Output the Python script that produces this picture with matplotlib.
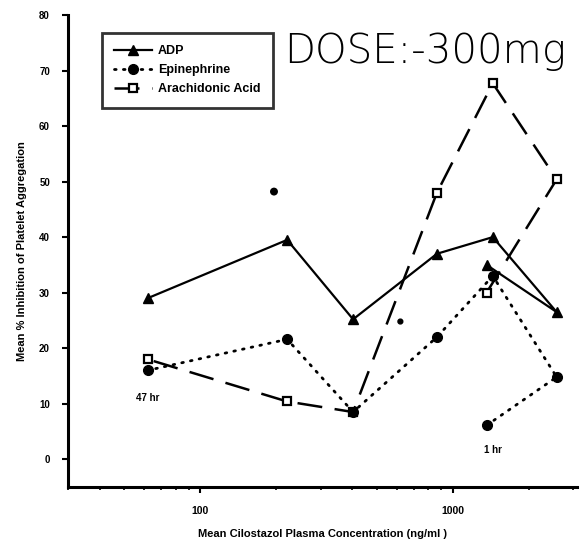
import matplotlib
matplotlib.use("Agg")
import matplotlib.pyplot as plt
from matplotlib.ticker import LogLocator, NullFormatter, FixedLocator, FixedFormatter

plt.rcParams["font.family"] = ["Liberation Sans", "DejaVu Sans"]
plt.rcParams["font.weight"] = "bold"

# time order: 1 hr ... 47 hr
conc = [1360, 2576, 1439, 865, 403, 221, 62]
adp = [35, 26.5, 40, 37, 25.2, 39.5, 29]
epinephrine = [6.1, 14.8, 33, 22, 8.5, 21.6, 16]
arachidonic = [30, 50.4, 67.7, 48, 8.5, 10.4, 18]

# stray scan marks
stray_x = [196, 620]
stray_y = [48.2, 24.8]

yticks = [0, 10, 20, 30, 40, 50, 60, 70, 80]
xticks = [100, 1000]
xticklabels = ["100", "1000"]

fig = plt.figure(figsize=(5.82, 5.5), dpi=100)
ax = fig.add_axes([68 / 582, 1 - 487 / 550, 509 / 582, 472 / 550])

ax.plot(conc, adp, color="black", lw=1.6, marker="^", ms=6.5,
        mfc="black", label="ADP", zorder=3)
ax.plot(conc, arachidonic, color="black", lw=1.8, ls=(0, (10, 5)),
        marker="s", ms=5.5, mfc="white", mew=1.6, label="Arachidonic Acid",
        zorder=3)
ax.plot(conc, epinephrine, color="black", lw=2.0, ls=(0, (0.6, 2.6)),
        dash_capstyle="round", marker="o", ms=7, mfc="black",
        label="Epinephrine", zorder=4)
ax.scatter(stray_x, stray_y, s=[22, 12], color="black", zorder=3)

ax.set_xscale("log")
ax.set_xlim(30, 3100)
ax.set_ylim(-5, 80)

ax.xaxis.set_major_locator(FixedLocator(xticks))
ax.xaxis.set_major_formatter(FixedFormatter(xticklabels))
ax.xaxis.set_minor_locator(LogLocator(base=10, subs=range(2, 10)))
ax.xaxis.set_minor_formatter(NullFormatter())
ax.set_yticks(yticks)

for side in ["top", "right"]:
    ax.spines[side].set_visible(False)
for side in ["left", "bottom"]:
    ax.spines[side].set_linewidth(2.2)

ax.tick_params(axis="y", direction="out", length=4, width=1.5,
               labelsize=7, pad=9)
ax.tick_params(axis="x", which="major", direction="out", length=4,
               width=1.5, labelsize=7.5, pad=10)
ax.tick_params(axis="x", which="minor", direction="out", length=2.5,
               width=1.2)

ax.set_xlabel("Mean Cilostazol Plasma Concentration (ng/ml )",
              fontsize=8, fontweight="bold", labelpad=9)
ax.set_ylabel("Mean % Inhibition of Platelet Aggregation",
              fontsize=8, fontweight="bold", labelpad=9)

ax.text(56, 11, "47 hr", fontsize=7, fontweight="bold", va="center")
ax.text(1330, 1.6, "1 hr", fontsize=7, fontweight="bold", va="center")

# legend order: ADP, Epinephrine, Arachidonic Acid
handles, labels = ax.get_legend_handles_labels()
order = [0, 2, 1]
leg = ax.legend([handles[i] for i in order], [labels[i] for i in order],
                loc="upper left", bbox_to_anchor=(0.066, 0.962),
                frameon=True, fancybox=False, edgecolor="black",
                fontsize=9, handlelength=3.0, borderpad=1.0,
                labelspacing=0.55, handletextpad=0.5, borderaxespad=0)
leg.get_frame().set_linewidth(2.0)
for t in leg.get_texts():
    t.set_fontweight("bold")

fig.text(284 / 582, 1 - 52 / 550, "DOSE:-300mg", fontsize=29,
         fontweight="light", family="DejaVu Sans", va="center",
         ha="left", color="black")

fig.savefig("out.png", dpi=100)
